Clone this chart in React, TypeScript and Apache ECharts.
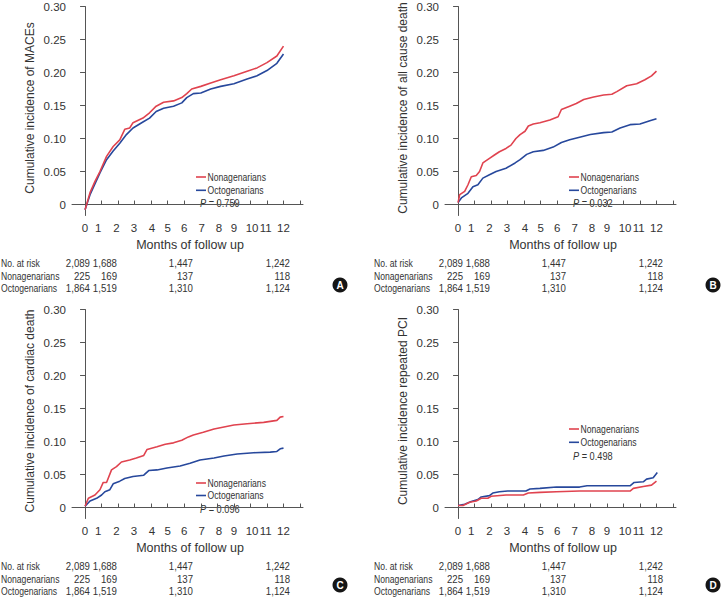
import React, { useEffect, useRef } from 'react';
import * as echarts from 'echarts';

// ---------- data ----------
const MONTH_TICKS = [0, 1, 2, 3, 4, 5, 6, 7, 8, 9, 10, 11, 12, 13];
const MONTH_LABEL_POS = [0, 0.8, 1.9, 2.95, 4.05, 5.0, 6.0, 7.05, 8.1, 9.0, 10.1, 10.92, 12.0];
const MONTH_LABELS = ['0', '1', '2', '3', '4', '5', '6', '7', '8', '9', '10', '11', '12'];
const Y_TICKS = [0, 0.05, 0.1, 0.15, 0.2, 0.25, 0.3];

const maceNona: [number, number][] = [
  [0, -0.008], [0.3, 0.018], [0.6, 0.035], [0.9, 0.05], [1.3, 0.073], [1.7, 0.088], [2.1, 0.098],
  [2.4, 0.114], [2.7, 0.116], [2.9, 0.124], [3.5, 0.131], [3.9, 0.139], [4.3, 0.149], [4.75, 0.155],
  [5.35, 0.157], [5.85, 0.162], [6.15, 0.168], [6.45, 0.175], [7.0, 0.179], [7.6, 0.184], [8.2, 0.189],
  [9.0, 0.195], [9.8, 0.202], [10.4, 0.207], [11.0, 0.215], [11.6, 0.225], [12.0, 0.24],
];
const maceOcto: [number, number][] = [
  [0, -0.008], [0.3, 0.015], [0.9, 0.048], [1.3, 0.068], [1.7, 0.081], [2.1, 0.093], [2.5, 0.106],
  [2.9, 0.116], [3.5, 0.125], [3.9, 0.131], [4.3, 0.141], [4.75, 0.146], [5.35, 0.149], [5.85, 0.154],
  [6.15, 0.162], [6.55, 0.168], [7.0, 0.169], [7.6, 0.175], [8.2, 0.179], [9.0, 0.183], [9.8, 0.19],
  [10.4, 0.195], [11.0, 0.203], [11.6, 0.214], [12.0, 0.228],
];
const deathNona: [number, number][] = [
  [0, 0.003], [0.1, 0.015], [0.4, 0.02], [0.6, 0.03], [0.8, 0.042], [1.1, 0.044], [1.3, 0.05],
  [1.5, 0.063], [1.9, 0.07], [2.2, 0.075], [2.5, 0.08], [2.9, 0.085], [3.2, 0.09], [3.5, 0.1],
  [3.75, 0.106], [4.05, 0.111], [4.25, 0.119], [4.55, 0.122], [4.95, 0.124], [5.55, 0.128],
  [6.05, 0.133], [6.25, 0.144], [6.75, 0.149], [7.15, 0.153], [7.6, 0.159], [8.2, 0.163],
  [8.8, 0.166], [9.3, 0.167], [9.6, 0.171], [10.2, 0.18], [10.8, 0.183], [11.3, 0.189],
  [11.7, 0.195], [12.0, 0.202],
];
const deathOcto: [number, number][] = [
  [0, 0.003], [0.2, 0.01], [0.6, 0.017], [0.9, 0.027], [1.2, 0.03], [1.5, 0.04], [1.9, 0.045],
  [2.3, 0.05], [2.9, 0.055], [3.45, 0.063], [3.75, 0.068], [4.15, 0.076], [4.55, 0.08], [5.15, 0.082],
  [5.75, 0.087], [6.25, 0.094], [6.75, 0.098], [7.35, 0.102], [8.0, 0.106], [8.8, 0.109],
  [9.3, 0.11], [9.8, 0.116], [10.4, 0.121], [11.0, 0.122], [11.6, 0.127], [12.0, 0.13],
];
const cardiacNona: [number, number][] = [
  [0, 0.002], [0.2, 0.014], [0.6, 0.019], [0.9, 0.027], [1.1, 0.038], [1.3, 0.038], [1.6, 0.057],
  [1.9, 0.062], [2.2, 0.069], [2.7, 0.072], [3.1, 0.075], [3.55, 0.079], [3.75, 0.088], [4.35, 0.092],
  [4.85, 0.096], [5.35, 0.098], [5.85, 0.102], [6.25, 0.107], [6.55, 0.11], [7.15, 0.114],
  [7.8, 0.119], [8.4, 0.122], [9.0, 0.125], [9.8, 0.127], [10.8, 0.129], [11.6, 0.132],
  [11.8, 0.137], [12.0, 0.138],
];
const cardiacOcto: [number, number][] = [
  [0, 0.002], [0.3, 0.01], [0.7, 0.014], [1.0, 0.019], [1.2, 0.024], [1.5, 0.027], [1.7, 0.036],
  [2.1, 0.04], [2.4, 0.044], [2.9, 0.047], [3.55, 0.049], [3.85, 0.056], [4.35, 0.057], [4.95, 0.06],
  [5.75, 0.063], [6.35, 0.067], [6.95, 0.072], [7.8, 0.075], [8.4, 0.078], [9.2, 0.081],
  [10.2, 0.083], [11.2, 0.084], [11.6, 0.085], [11.8, 0.089], [12.0, 0.09],
];
const pciNona: [number, number][] = [
  [0, 0.003], [0.3, 0.003], [0.7, 0.008], [1.1, 0.01], [1.4, 0.014], [1.8, 0.014], [2.0, 0.017],
  [2.9, 0.019], [3.95, 0.019], [4.25, 0.022], [4.95, 0.023], [5.95, 0.024], [7.35, 0.025],
  [8.4, 0.025], [10.4, 0.025], [10.6, 0.029], [11.2, 0.032], [11.7, 0.034], [12.0, 0.04],
];
const pciOcto: [number, number][] = [
  [0, 0.003], [0.4, 0.005], [0.8, 0.009], [1.2, 0.012], [1.4, 0.016], [1.9, 0.018], [2.1, 0.022],
  [2.5, 0.024], [3.0, 0.025], [4.1, 0.025], [4.35, 0.028], [4.95, 0.029], [5.95, 0.031],
  [7.35, 0.031], [7.8, 0.033], [10.4, 0.033], [10.65, 0.038], [11.2, 0.039], [11.4, 0.043],
  [11.8, 0.045], [12.05, 0.053],
];

const PANEL_TITLES = [
  'Cumulative incidence of MACEs',
  'Cumulative incidence of all cause death',
  'Cumulative incidence of cardiac death',
  'Cumulative incidence repeated PCI',
];
const P_VALUES = ['0.759', '0.032', '0.096', '0.498'];
const BADGES = ['A', 'B', 'C', 'D'];
const GROUPS = ['Nonagenarians', 'Octogenarians'];
const RISK_ROWS = ['No. at risk', 'Nonagenarians', 'Octogenarians'];
const riskTotal = [2089, 1688, 1447, 1242];
const riskNona = [225, 169, 137, 118];
const riskOcto = [1864, 1519, 1310, 1124];

const PANEL_DATA = [
  [maceNona, maceOcto],
  [deathNona, deathOcto],
  [cardiacNona, cardiacOcto],
  [pciNona, pciOcto],
];

// ---------- layout / style ----------
const FONT = "'Liberation Sans', Arial, Helvetica, sans-serif";
const TEXT = '#333333';
const AXIS = '#555555';
const RED = '#e0434f';
const BLUE = '#27489c';
const COLORS = [RED, BLUE];
const OFFS = [[0, 0], [373, 0], [0, 303], [373, 303]];
const LEGEND_Y = [[177, 190.3], [177, 190.3], [483, 495.5], [429, 442.3]];
const P_Y = [203.3, 203.3, 509, 455.7];
const BADGE_Y = [285, 285, 585, 585];
const RISK_COL_RIGHT = [90, 117, 193, 290];
const RISK_ROW_Y = [263, 275.7, 288];

const fmt = (n: number) => n.toLocaleString('en-US');

function txt(x: number, y: number, text: string, scaleX: number, align: string, extra: any = {}) {
  return {
    type: 'text', x, y, scaleX, scaleY: 1,
    style: {
      text, x: 0, y: 0, fontSize: 11.5, fontFamily: FONT, fill: TEXT,
      textAlign: align, textVerticalAlign: 'middle', ...extra,
    },
  };
}

function buildOption() {
  const grid: any[] = [];
  const xAxis: any[] = [];
  const yAxis: any[] = [];
  const series: any[] = [];
  const graphic: any[] = [];

  OFFS.forEach(([dx, dy], i) => {
    grid.push({ left: 72 + dx, top: 6.5 + dy, width: 231, height: 209 });
    xAxis.push({
      type: 'value', gridIndex: i, min: -0.79, max: 13.18,
      name: 'Months of follow up', nameLocation: 'middle', nameGap: 23,
      nameTextStyle: { fontSize: 12.5, color: TEXT, fontFamily: FONT, padding: [0, 0, 0, 5] },
      axisLine: { show: true, lineStyle: { color: AXIS, width: 1 } },
      axisTick: { show: true, inside: true, length: 4, customValues: MONTH_TICKS, lineStyle: { color: AXIS } },
      axisLabel: {
        show: true, margin: 6, fontSize: 11.5, color: TEXT, fontFamily: FONT,
        customValues: MONTH_LABEL_POS,
        formatter: (v: number) => {
          const k = MONTH_LABEL_POS.findIndex((p) => Math.abs(p - v) < 1e-6);
          return k >= 0 ? MONTH_LABELS[k] : '';
        },
      },
      splitLine: { show: false },
    });
    yAxis.push({
      type: 'value', gridIndex: i, min: -0.0166, max: 0.3,
      name: PANEL_TITLES[i], nameLocation: 'middle', nameGap: 36,
      nameTextStyle: { fontSize: 12, color: TEXT, fontFamily: FONT, padding: [0, 0, 0, 6] },
      axisLine: { show: true, lineStyle: { color: AXIS, width: 1 } },
      axisTick: { show: true, inside: false, length: 5, customValues: Y_TICKS, lineStyle: { color: AXIS } },
      axisLabel: {
        show: true, margin: 6, fontSize: 11.5, color: TEXT, fontFamily: FONT,
        customValues: Y_TICKS,
        formatter: (v: number) => (Math.abs(v) < 1e-9 ? '0' : v.toFixed(2)),
      },
      splitLine: { show: false },
    });
    const [nona, octo] = PANEL_DATA[i];
    series.push({
      type: 'line', name: GROUPS[1], xAxisIndex: i, yAxisIndex: i, data: octo,
      showSymbol: false, color: BLUE, lineStyle: { color: BLUE, width: 1.6 },
    });
    series.push({
      type: 'line', name: GROUPS[0], xAxisIndex: i, yAxisIndex: i, data: nona,
      showSymbol: false, color: RED, lineStyle: { color: RED, width: 1.6 },
    });
    // legend (line sample + label)
    GROUPS.forEach((g, k) => {
      const ly = LEGEND_Y[i][k];
      graphic.push({
        type: 'line', shape: { x1: 196 + dx, y1: ly, x2: 206 + dx, y2: ly },
        style: { stroke: COLORS[k], lineWidth: 1.6 },
      });
      graphic.push(txt(207.5 + dx, ly, g, 0.75, 'left'));
    });
    // P value
    graphic.push(txt(200 + dx, P_Y[i], '{i|P} = ' + P_VALUES[i], 0.8, 'left', {
      rich: { i: { fontStyle: 'italic', fontSize: 11.5, fontFamily: FONT, fill: TEXT } },
    }));
    // number at risk table
    const rows = [riskTotal, riskNona, riskOcto];
    RISK_ROWS.forEach((lab, r) => {
      graphic.push(txt(1 + dx, RISK_ROW_Y[r] + dy, lab, 0.75, 'left'));
      rows[r].forEach((n, c) => {
        graphic.push(txt(RISK_COL_RIGHT[c] + dx, RISK_ROW_Y[r] + dy, fmt(n), 0.84, 'right'));
      });
    });
    // badge
    graphic.push({
      type: 'circle', shape: { cx: 340 + dx, cy: BADGE_Y[i], r: 7.5 }, style: { fill: '#151515' },
    });
    graphic.push({
      type: 'text', x: 340 + dx, y: BADGE_Y[i] + 0.5,
      style: {
        text: BADGES[i], x: 0, y: 0, fontSize: 10, fontWeight: 'bold', fontFamily: FONT,
        fill: '#ffffff', textAlign: 'center', textVerticalAlign: 'middle',
      },
    });
  });

  return {
    animation: false,
    backgroundColor: '#ffffff',
    textStyle: { fontFamily: FONT },
    grid, xAxis, yAxis, series, graphic,
  };
}

export default function App() {
  const ref = useRef<HTMLDivElement>(null);
  useEffect(() => {
    if (!ref.current) return;
    const chart = echarts.init(ref.current, undefined, { renderer: 'svg' });
    chart.setOption(buildOption());
    return () => chart.dispose();
  }, []);
  return (
    <div
      ref={ref}
      style={{ position: 'absolute', left: 0, top: 0, width: 728, height: 598, background: '#fff' }}
    />
  );
}
